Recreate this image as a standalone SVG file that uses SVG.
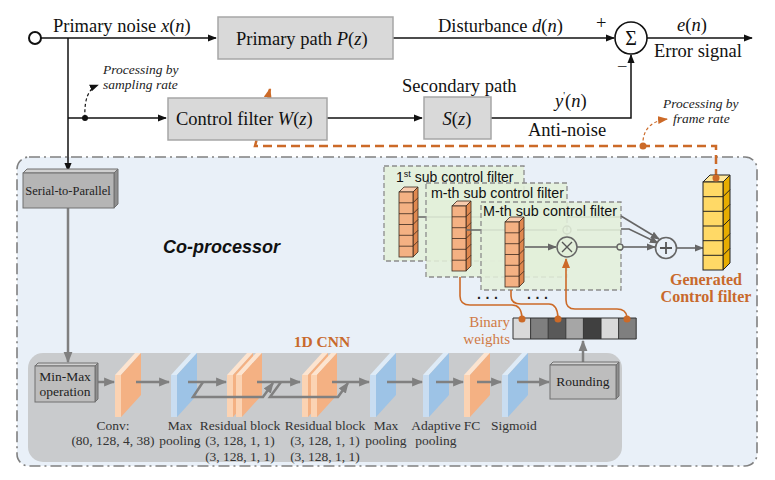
<svg xmlns="http://www.w3.org/2000/svg" width="775" height="480" viewBox="0 0 775 480">
<style>
.serif{font-family:"Liberation Serif","DejaVu Serif",serif;}
.sans{font-family:"Liberation Sans","DejaVu Sans",sans-serif;}
.t17{font-size:18.5px;fill:#111;}
.lbl{font-size:13.5px;fill:#333;}
.it{font-style:italic;}
.m{font-style:italic;}
.blk{stroke:#111;stroke-width:1.5;fill:none;}
.gry{stroke:#808080;stroke-width:2.5;fill:none;}
.gthin{stroke:#666;stroke-width:1.6;fill:none;}
.org{stroke:#cc6a28;stroke-width:1.6;fill:none;}
.box{fill:#d9d9d9;stroke:#a6a6a6;stroke-width:1.5;}
.panel{fill:#e2efda;fill-opacity:0.88;stroke:#8c8c8c;stroke-width:1.3;stroke-dasharray:5 3;}
.cell{stroke:#3b2a1e;stroke-width:0.8;}
.sub{font-size:14px;fill:#111;}
</style>
<defs>
<marker id="ab" viewBox="0 0 10 10" refX="9" refY="5" markerWidth="9" markerHeight="9" markerUnits="userSpaceOnUse" orient="auto"><path d="M0,1 L10,5 L0,9 z" fill="#111"/></marker>
<marker id="ag" viewBox="0 0 10 10" refX="9" refY="5" markerWidth="11" markerHeight="11" markerUnits="userSpaceOnUse" orient="auto"><path d="M0,1 L10,5 L0,9 z" fill="#808080"/></marker>
<marker id="ag2" viewBox="0 0 10 10" refX="9" refY="5" markerWidth="9" markerHeight="9" markerUnits="userSpaceOnUse" orient="auto"><path d="M0,1 L10,5 L0,9 z" fill="#666"/></marker>
<marker id="ao" viewBox="0 0 10 10" refX="9" refY="5" markerWidth="10" markerHeight="10" markerUnits="userSpaceOnUse" orient="auto"><path d="M0,1 L10,5 L0,9 z" fill="#cc6a28"/></marker>
<g id="slabO">
<polygon points="0,22 20,0 26,0 6,22" fill="#fce4d0"/>
<polygon points="0,22 6,22 6,64 0,64" fill="#fbd3b3"/>
<polygon points="6,22 26,0 26,42 6,64" fill="#f4b183"/>
</g>
<g id="slabB">
<polygon points="0,22 20,0 26,0 6,22" fill="#deebf7"/>
<polygon points="0,22 6,22 6,64 0,64" fill="#c9ddf1"/>
<polygon points="6,22 26,0 26,42 6,64" fill="#9dc3e6"/>
</g>
<g id="col">
<polygon class="cell" points="0,5 5,0 19,0 14,5" fill="#f8cbad"/>
<polygon class="cell" points="14,5 19,0 19,65 14,70" fill="#e0884f"/>
<rect class="cell" x="0" y="5" width="14" height="65" fill="#f4b183"/>
<path class="cell" fill="none" d="M0,15.8 H14 L19,10.8 M0,26.7 H14 L19,21.7 M0,37.5 H14 L19,32.5 M0,48.3 H14 L19,43.3 M0,59.2 H14 L19,54.2"/>
</g>
</defs>

<g id="coprocessor">
<rect x="17" y="157" width="740" height="309" rx="12" fill="#e9f0f8" stroke="#808080" stroke-width="1.6" stroke-dasharray="11 4 2 4"/>
<text x="163" y="253" class="sans" font-size="18" font-weight="bold" font-style="italic" fill="#111">Co-processor</text>
</g>

<g id="cnn-panel">
<rect x="28" y="353" width="594" height="109" rx="15" fill="#c9cbcd"/>
<text x="322" y="347" class="serif" font-size="15.5" font-weight="bold" fill="#c8692c" text-anchor="middle">1D CNN</text>
</g>

<g id="conv"><use href="#slabO" x="115" y="353"/><text class="serif lbl" text-anchor="middle"><tspan x="113" y="430">Conv:</tspan><tspan x="113" y="445">(80, 128, 4, 38)</tspan></text></g>
<g id="maxpool1"><use href="#slabB" x="171" y="353"/><text class="serif lbl" text-anchor="middle"><tspan x="180" y="430">Max</tspan><tspan x="180" y="445">pooling</tspan></text></g>
<g id="resblock1"><use href="#slabO" x="227" y="353"/><use href="#slabO" x="236" y="353"/><text class="serif lbl" text-anchor="middle"><tspan x="240" y="430">Residual block</tspan><tspan x="240" y="445">(3, 128, 1, 1)</tspan><tspan x="240" y="461">(3, 128, 1, 1)</tspan></text></g>
<g id="resblock2"><use href="#slabO" x="302" y="353"/><use href="#slabO" x="311" y="353"/><text class="serif lbl" text-anchor="middle"><tspan x="325" y="430">Residual block</tspan><tspan x="325" y="445">(3, 128, 1, 1)</tspan><tspan x="325" y="461">(3, 128, 1, 1)</tspan></text></g>
<g id="maxpool2"><use href="#slabB" x="370" y="353"/><text class="serif lbl" text-anchor="middle"><tspan x="386" y="430">Max</tspan><tspan x="386" y="445">pooling</tspan></text></g>
<g id="adaptive"><use href="#slabB" x="423" y="353"/><text class="serif lbl" text-anchor="middle"><tspan x="436" y="430">Adaptive</tspan><tspan x="436" y="445">pooling</tspan></text></g>
<g id="fc"><use href="#slabO" x="464" y="353"/><text class="serif lbl" text-anchor="middle" x="472" y="430">FC</text></g>
<g id="sigmoid"><use href="#slabB" x="502" y="353"/><text class="serif lbl" text-anchor="middle" x="514" y="430">Sigmoid</text></g>

<g id="subfilter1">
<rect class="panel" x="384" y="166" width="140" height="95"/>
<text x="396" y="182" class="sans sub">1<tspan font-size="9" dy="-5">st</tspan><tspan dy="5"> sub control filter</tspan></text>
<use href="#col" x="399" y="187"/>
<path class="gthin" d="M418,217 H566 M566,217 H621"/>
</g>
<g id="subfilter2">
<rect class="panel" x="426" y="183" width="141" height="94"/>
<text x="431" y="198" class="sans sub" textLength="133" lengthAdjust="spacingAndGlyphs">m-th sub control filter</text>
<use href="#col" x="452" y="201"/>
<path class="gthin" d="M466,230 H557 M577,230 H621"/>
<circle cx="567" cy="230" r="4" fill="none" stroke="#666" stroke-width="1.4"/>
</g>
<g id="subfilter3">
<rect class="panel" x="481" y="202" width="140" height="88"/>
<text x="483" y="216" class="sans sub" textLength="134" lengthAdjust="spacingAndGlyphs">M-th sub control filter</text>
<use href="#col" x="505" y="217"/>
</g>

<g id="connectors">
<circle cx="35" cy="38" r="6" fill="#fff" stroke="#111" stroke-width="2"/>
<path class="blk" d="M41,38 H216" marker-end="url(#ab)"/>
<path class="blk" d="M68,38 V171" marker-end="url(#ab)"/>
<path class="blk" d="M68,118 H166" marker-end="url(#ab)"/>
<circle cx="85" cy="118" r="3" fill="#111"/>
<path d="M85,118 C84,100 88,89 98,85" fill="none" stroke="#111" stroke-width="1.2" stroke-dasharray="3 2.5" marker-end="url(#ab)"/>
<path class="blk" d="M393,38 H614" marker-end="url(#ab)"/>
<path class="blk" d="M647,38 H752" marker-end="url(#ab)"/>
<path class="blk" d="M327,118 H422" marker-end="url(#ab)"/>
<path class="blk" d="M491,118 H631 V55" marker-end="url(#ab)"/>
<path d="M716,178 V146 H255 L270,89" fill="none" stroke="#cc6a28" stroke-width="2.5" stroke-dasharray="9 5" marker-end="url(#ao)"/>
<circle cx="643" cy="146" r="3.5" fill="#cc6a28"/>
<path d="M643,146 C642,131 650,121 667,119" fill="none" stroke="#cc6a28" stroke-width="1.2" stroke-dasharray="3 2.5" marker-end="url(#ao)"/>
<path class="gry" d="M68,208 V362" marker-end="url(#ag)"/>
<path class="gry" d="M98,382 H114" marker-end="url(#ag)"/>
<path class="gry" d="M136,382 H169" marker-end="url(#ag)"/>
<path class="gry" d="M188,382 H226" marker-end="url(#ag)"/>
<path class="gry" d="M203,382 L193,397 H263 L273,383" marker-end="url(#ag)"/>
<path class="gry" d="M257,382 H300" marker-end="url(#ag)"/>
<path class="gry" d="M281,382 L270,397 H338 L348,383" marker-end="url(#ag)"/>
<path class="gry" d="M332,382 H369" marker-end="url(#ag)"/>
<path class="gry" d="M387,382 H422" marker-end="url(#ag)"/>
<path class="gry" d="M436,382 H463" marker-end="url(#ag)"/>
<path class="gry" d="M477,382 H501" marker-end="url(#ag)"/>
<path class="gry" d="M517,382 H549" marker-end="url(#ag)"/>
<path class="gry" d="M583,362 V341" marker-end="url(#ag)"/>
<path class="gthin" d="M525,247 H556" marker-end="url(#ag2)"/>
<path class="gthin" d="M577,247 H617"/>
<circle cx="620" cy="247" r="3" fill="#e2efda" stroke="#666" stroke-width="1.4"/>
<path class="gthin" d="M623,247 H655" marker-end="url(#ag2)"/>
<path class="gthin" d="M621,216 L659,239" marker-end="url(#ag2)"/>
<path class="gthin" d="M621,229 H629 L658,243" marker-end="url(#ag2)"/>
<path class="gthin" d="M676,248 H703" marker-end="url(#ag2)"/>
<path class="org" d="M460,277 V296 Q460,305 470,305 H512 Q521,305 522,317"/>
<path class="org" d="M511,290 V296 Q511,304 521,304 H549 Q557,304 558,317"/>
<path class="org" d="M627,317 Q626,309 617,309 H575 Q566,309 566,300 V259" marker-end="url(#ao)"/>
</g>

<g id="primary-noise"><text x="53" y="32" class="serif t17">Primary noise <tspan class="m">x</tspan>(<tspan class="m">n</tspan>)</text></g>
<g id="primary-path"><rect class="box" x="218" y="17" width="175" height="42"/><text x="236" y="45" class="serif t17">Primary path   <tspan class="m">P</tspan>(<tspan class="m">z</tspan>)</text></g>
<g id="control-filter"><rect class="box" x="168" y="98" width="159" height="42"/><text x="176" y="125" class="serif t17">Control filter <tspan class="m">W</tspan>(<tspan class="m">z</tspan>)</text></g>
<g id="secondary-path"><text x="402" y="92" class="serif t17">Secondary path</text><rect class="box" x="424" y="97" width="67" height="42"/><text x="457" y="125" class="serif t17" font-size="19" text-anchor="middle"><tspan class="m">S</tspan>(<tspan class="m">z</tspan>)</text></g>
<g id="sum"><circle cx="631" cy="38" r="16" fill="#fff" stroke="#111" stroke-width="1.6"/><text x="631" y="45" class="serif" font-size="20" fill="#111" text-anchor="middle">Σ</text></g>
<g id="labels-top">
<text x="438" y="32" class="serif t17">Disturbance <tspan class="m">d</tspan>(<tspan class="m">n</tspan>)</text>
<text x="596" y="29" class="serif t17">+</text>
<text x="617" y="73" class="serif t17">−</text>
<text x="677" y="31" class="serif t17"><tspan class="m">e</tspan>(<tspan class="m">n</tspan>)</text>
<text x="654" y="57" class="serif t17">Error signal</text>
<text x="555" y="107" class="serif t17"><tspan class="m">y</tspan><tspan font-size="10" dy="-8">'</tspan><tspan dy="8">(</tspan><tspan class="m">n</tspan>)</text>
<text x="528" y="136" class="serif t17">Anti-noise</text>
<text class="serif it" font-size="13.5" fill="#222"><tspan x="103" y="74">Processing by</tspan><tspan x="103" y="89">sampling rate</tspan></text>
<text class="serif it" font-size="13.5" fill="#222"><tspan x="663" y="108">Processing by</tspan><tspan x="673" y="123">frame rate</tspan></text>
</g>

<g id="serial-to-parallel">
<polygon points="23,173 27,169 118,169 114,173" fill="#d0d0d0" stroke="#707070" stroke-width="1"/>
<polygon points="114,173 118,169 118,204 114,208" fill="#8f8f8f" stroke="#707070" stroke-width="1"/>
<rect x="23" y="173" width="91" height="35" fill="#b5b5b5" stroke="#707070" stroke-width="1"/>
<text x="68" y="195" class="serif" font-size="12.5" fill="#222" text-anchor="middle">Serial-to-Parallel</text>
</g>
<g id="min-max">
<polygon points="35,366 38,363 98,363 95,366" fill="#d0d0d0" stroke="#707070" stroke-width="1"/>
<polygon points="95,366 98,363 98,399 95,402" fill="#8f8f8f" stroke="#707070" stroke-width="1"/>
<rect x="35" y="366" width="60" height="36" fill="#bdbdbd" stroke="#707070" stroke-width="1"/>
<text class="serif" font-size="13.5" fill="#222" text-anchor="middle"><tspan x="65" y="381">Min-Max</tspan><tspan x="65" y="396">operation</tspan></text>
</g>
<g id="rounding">
<polygon points="550,365 553,362 619,362 616,365" fill="#d0d0d0" stroke="#707070" stroke-width="1"/>
<polygon points="616,365 619,362 619,396 616,399" fill="#8f8f8f" stroke="#707070" stroke-width="1"/>
<rect x="550" y="365" width="66" height="34" fill="#bdbdbd" stroke="#707070" stroke-width="1"/>
<text x="583" y="386" class="serif" font-size="13.5" fill="#222" text-anchor="middle">Rounding</text>
</g>
<g id="multiply"><circle cx="567" cy="247" r="10" fill="#e2efda" stroke="#666" stroke-width="1.5"/><path d="M562,242 L572,252 M572,242 L562,252" stroke="#555" stroke-width="1.4"/></g>
<g id="adder"><circle cx="666" cy="248" r="10.5" fill="#e9f0f8" stroke="#666" stroke-width="1.6"/><path d="M660,248 H672 M666,242 V254" stroke="#555" stroke-width="1.8"/></g>
<g id="dots"><text x="477" y="303" class="sans" font-size="14" font-weight="bold" fill="#222">· · ·</text><text x="527" y="303" class="sans" font-size="14" font-weight="bold" fill="#222">· · ·</text></g>
<g id="binary-weights">
<rect x="513" y="318" width="17.6" height="21" fill="#d9d9d9"/>
<rect x="530.6" y="318" width="17.6" height="21" fill="#7f7f7f"/>
<rect x="548.2" y="318" width="17.6" height="21" fill="#595959"/>
<rect x="565.8" y="318" width="17.6" height="21" fill="#a6a6a6"/>
<rect x="583.4" y="318" width="17.6" height="21" fill="#404040"/>
<rect x="601" y="318" width="17.6" height="21" fill="#d9d9d9"/>
<rect x="618.6" y="318" width="17.6" height="21" fill="#7f7f7f"/>
<path d="M513,318 h123.2 v21 h-123.2 z M530.6,318 v21 M548.2,318 v21 M565.8,318 v21 M583.4,318 v21 M601,318 v21 M618.6,318 v21" fill="none" stroke="#333" stroke-width="1"/>
<circle cx="522" cy="319" r="3.5" fill="#cc6a28"/>
<circle cx="558" cy="319" r="3.5" fill="#cc6a28"/>
<circle cx="627" cy="319" r="3.5" fill="#cc6a28"/>
<text class="serif" font-size="15" fill="#d07a45" text-anchor="end"><tspan x="510" y="327">Binary</tspan><tspan x="510" y="344">weights</tspan></text>
</g>
<g id="generated-filter">
<polygon points="703,182 710,175 730,175 723,182" fill="#ffe699" stroke="#222" stroke-width="1"/>
<polygon points="723,182 730,175 730,263 723,270" fill="#e6ac00" stroke="#222" stroke-width="1"/>
<rect x="703" y="182" width="20" height="88" fill="#ffd966" stroke="#222" stroke-width="1"/>
<path d="M703,196.7 H723 L730,189.7 M703,211.3 H723 L730,204.3 M703,226 H723 L730,219 M703,240.7 H723 L730,233.7 M703,255.3 H723 L730,248.3" fill="none" stroke="#222" stroke-width="1"/>
<circle cx="716" cy="178" r="3.5" fill="#cc6a28"/>
<text class="serif" font-size="16" font-weight="bold" fill="#c8692c" text-anchor="middle"><tspan x="706" y="285">Generated</tspan><tspan x="706" y="302">Control filter</tspan></text>
</g>
</svg>
